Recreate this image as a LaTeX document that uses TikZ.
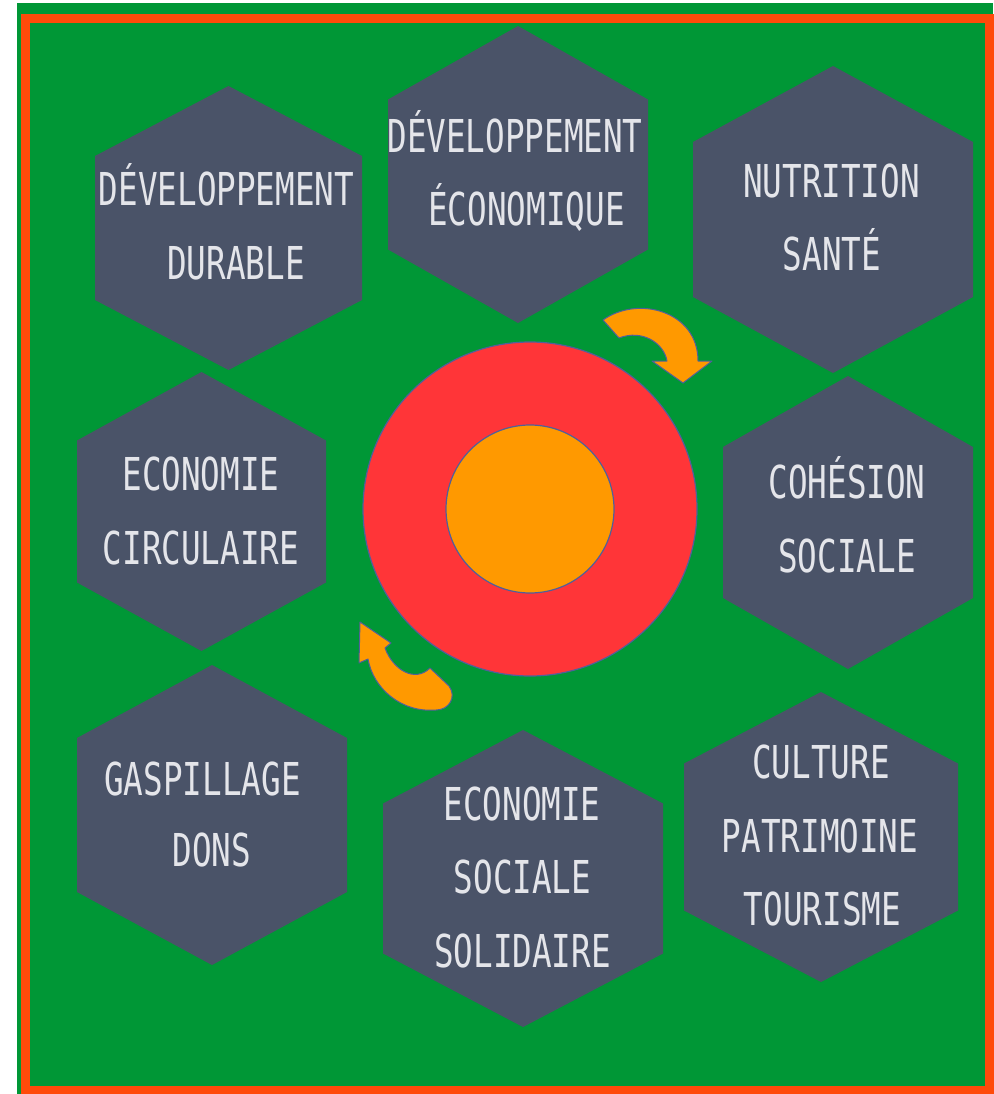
\documentclass[tikz,border=0pt]{standalone}
\usepackage{fontspec}
\newfontfamily\hexfont[FakeStretch=0.72]{DejaVu Sans Mono}
\definecolor{bggreen}{HTML}{009736}
\definecolor{frameorange}{HTML}{FF4A0A}
\definecolor{hexslate}{HTML}{4A5368}
\definecolor{hextext}{HTML}{E4E5EA}
\definecolor{ringred}{HTML}{FF3538}
\definecolor{coreorange}{HTML}{FF9900}
\definecolor{edgeblue}{HTML}{50609A}
\begin{document}
\begin{tikzpicture}[x=1pt,y=-1pt,
  lbl/.style={anchor=base, inner sep=0pt, text=hextext, font=\hexfont\fontsize{45.3}{54}\selectfont},
  disc/.style={circle, draw=edgeblue, line width=1.2pt, inner sep=0pt},
  turn/.style={fill=coreorange, draw=edgeblue, line width=1pt, line join=round}]
\useasboundingbox (0,0) rectangle (993,1094);
\fill[white] (0,0) rectangle (993,1094);
\fill[bggreen] (17,3) rectangle (993,1094);
\draw[frameorange, line width=9pt] (25,19) rectangle (989,1090);

% hexagons: centre x / centre y / width / height / corner offset
\foreach \cx/\cy/\w/\h/\c in {228.5/228/267/284/72, 518/174.5/260/297/75,
  833/219.5/280/307/77.5, 201.5/511.5/249/279/71, 848/522.5/250/293/75.5,
  212/815/270/300/77, 523/878.5/280/297/75, 821/837/274/290/73.5} {
  \fill[hexslate] ({\cx},{\cy-\h/2}) -- ({\cx+\w/2},{\cy-\c}) -- ({\cx+\w/2},{\cy+\c})
    -- ({\cx},{\cy+\h/2}) -- ({\cx-\w/2},{\cy+\c}) -- ({\cx-\w/2},{\cy-\c}) -- cycle;
}

% labels
\node[lbl] (dd1) at (226.5,205) {DÉVELOPPEMENT};
\node[lbl] (dd2) at (236,279) {DURABLE};
\node[lbl] (de1) at (515,153) {DÉVELOPPEMENT};
\node[lbl] (de2) at (526.5,225) {ÉCONOMIQUE};
\node[lbl] (ns1) at (831.5,197) {NUTRITION};
\node[lbl] (ns2) at (832,270) {SANTÉ};
\node[lbl] (ec1) at (201,490) {ECONOMIE};
\node[lbl] (ec2) at (201,564) {CIRCULAIRE};
\node[lbl] (cs1) at (847,498) {COHÉSION};
\node[lbl] (cs2) at (847,572) {SOCIALE};
\node[lbl] (gd1) at (202.5,795) {GASPILLAGE};
\node[lbl] (gd2) at (212,866) {DONS};
\node[lbl] (es1) at (522,820) {ECONOMIE};
\node[lbl] (es2) at (522.5,893) {SOCIALE};
\node[lbl] (es3) at (522.5,967) {SOLIDAIRE};
\node[lbl] (cp1) at (821,778) {CULTURE};
\node[lbl] (cp2) at (820,852) {PATRIMOINE};
\node[lbl] (cp3) at (822.5,925) {TOURISME};

% centre discs
\node[disc, fill=ringred, minimum size=334pt] (ring) at (530,509) {};
\node[disc, fill=coreorange, minimum size=168pt] (core) at (ring.center) {};

% curved arrows
\path[turn] (603,320) .. controls (638,295) and (698,311) .. (698,361) -- (712,361)
  -- (683,383) -- (652,361) -- (667,361) .. controls (664,343) and (642,329) .. (619,338) -- cycle;
\path[turn] (360,622) -- (391,643) -- (385,648) .. controls (393,670) and (415,683) .. (430,668)
  -- (449,686) .. controls (457,697) and (449,710) .. (436,710)
  .. controls (401,713) and (373,688) .. (368,659) -- (359,663) -- cycle;
\end{tikzpicture}
\end{document}
